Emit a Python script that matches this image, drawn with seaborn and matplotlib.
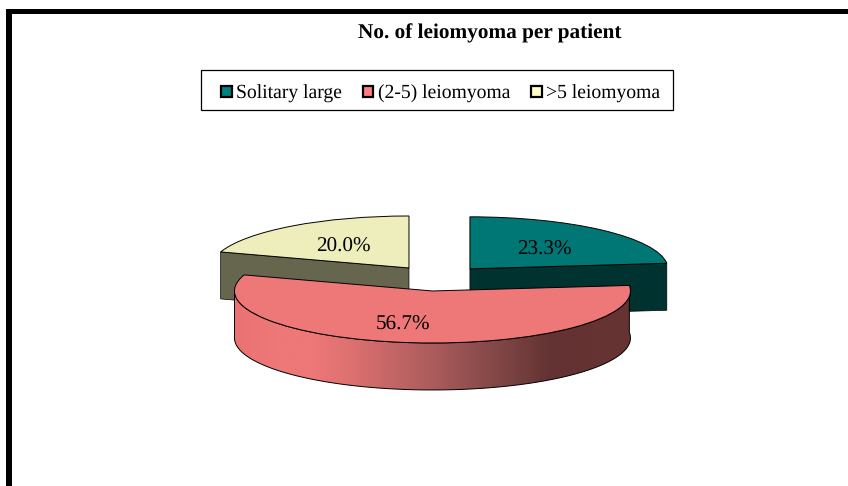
import numpy as np
import seaborn as sns
import matplotlib.pyplot as plt
from matplotlib.colors import LinearSegmentedColormap
from matplotlib.patches import Patch, Polygon, Rectangle

categories = ['Solitary large', '(2-5) leiomyoma', '>5 leiomyoma']
shares = [23.3, 56.7, 20.0]
title = 'No. of leiomyoma per patient'

top_colors = ['#007775', '#EE7777', '#EEEEBC']
side_colors = ['#003230', '#663333', '#66664F']
legend_colors = ['#008080', '#FF8080', '#FFFFCC']
gradient_stops = ['#EA7272', '#EE7777', '#EE7777', '#DC7070', '#C46666', '#AC5C5C',
                  '#924F4F', '#7A4242', '#633232', '#663333', '#663333']

W, H = 848, 486
RX, RY = 198, 52       # pie radius in pixels, the tilt squashes y
CX, CY = 437.5, 278.3  # pixel position of the unexploded centre
DEPTH = 47 / RY

sns.set_style('white')
plt.rcParams['font.family'] = ['Liberation Serif', 'DejaVu Serif']
plt.rcParams['text.color'] = 'black'
plt.rcParams['text.hinting'] = 'no_hinting'
plt.rcParams['text.hinting_factor'] = 8

fig = plt.figure(figsize=(W / 100, H / 100), dpi=100)
ax = fig.add_axes([0, 0, 1, 1])

wedges, _, autotexts = ax.pie(
    shares,
    colors=sns.color_palette(top_colors),
    startangle=90,
    counterclock=False,
    explode=[0.245] * 3,
    autopct='%.1f%%',
    pctdistance=0.58,
    wedgeprops=dict(edgecolor='black', linewidth=0.7),
    textprops=dict(fontsize=15.2, color='black', zorder=6),
)


def rim(wedge, angle):
    rad = np.radians(angle)
    return wedge.center[0] + np.cos(rad), wedge.center[1] + np.sin(rad)


def cut_face(wedge, angle, color):
    # flat side showing where a back slice was cut, seen from the front
    x0, y0 = wedge.center
    x1, y1 = rim(wedge, angle)
    pts = [(x0, y0), (x1, y1), (x1, y1 - DEPTH), (x0, y0 - DEPTH)]
    ax.add_patch(Polygon(pts, closed=True, facecolor=color, edgecolor='black',
                         linewidth=0.5, zorder=1))


teal, pink, yellow = wedges
teal.set_zorder(2)
yellow.set_zorder(2)
pink.set_zorder(4)
cut_face(teal, teal.theta1, side_colors[0])
cut_face(yellow, yellow.theta2, side_colors[2])

# curved wall of the big slice, shaded left to right
angles = np.linspace(-180, pink.theta2, 200)
rim_x, rim_y = rim(pink, angles)
outline = np.column_stack([np.r_[rim_x, rim_x[::-1]],
                           np.r_[rim_y, rim_y[::-1] - DEPTH]])
wall = Polygon(outline, closed=True, facecolor='none', edgecolor='black',
               linewidth=0.7, zorder=3.5)
ax.add_patch(wall)
shade = LinearSegmentedColormap.from_list('wall', gradient_stops)
img = ax.imshow(np.linspace(0, 1, 256)[None, :], cmap=shade, aspect='auto',
                extent=[rim_x.min(), rim_x.max(), (rim_y - DEPTH).min(), rim_y.max()],
                zorder=3)
img.set_clip_path(wall)

# chart labels are not quite on the mid angle, nudge them in pixels
for txt, (dx, dy) in zip(autotexts, [(-2, 3.5), (-18, 3.5), (2, 3)]):
    x, y = txt.get_position()
    txt.set_position((x + dx / RX, y - dy / RY))

ax.set_aspect('auto')
ax.set_xlim(-CX / RX, (W - CX) / RX)
ax.set_ylim((CY - H) / RY, CY / RY)
ax.axis('off')

fig.text(490 / W, 1 - 33 / H, title, ha='center', va='center',
         fontsize=15.3, fontweight='bold')

# legend box drawn apart, its padding is wider than it is tall
fig.add_artist(Rectangle((201 / W, 1 - 110 / H), 472 / W, 40 / H, transform=fig.transFigure,
                         facecolor='white', edgecolor='black', linewidth=0.9))
handles = [Patch(facecolor=c, edgecolor='black', linewidth=1.6) for c in legend_colors]
leg = fig.legend(handles, categories, ncol=3, loc='center',
                 bbox_to_anchor=(440.5 / W, 1 - 93.5 / H), frameon=False,
                 fontsize=14.1, handlelength=0.55, handleheight=0.5,
                 handletextpad=0.22, columnspacing=1.05)
leg.set_zorder(5)

# heavy page border, top and left only
fig.add_artist(Rectangle((6 / W, 1 - 14 / H), (W - 6) / W, 5 / H, transform=fig.transFigure,
                         facecolor='black', edgecolor='none'))
fig.add_artist(Rectangle((6 / W, 0), 6 / W, 1 - 9 / H, transform=fig.transFigure,
                         facecolor='black', edgecolor='none'))

fig.savefig('out.png', dpi=100)
